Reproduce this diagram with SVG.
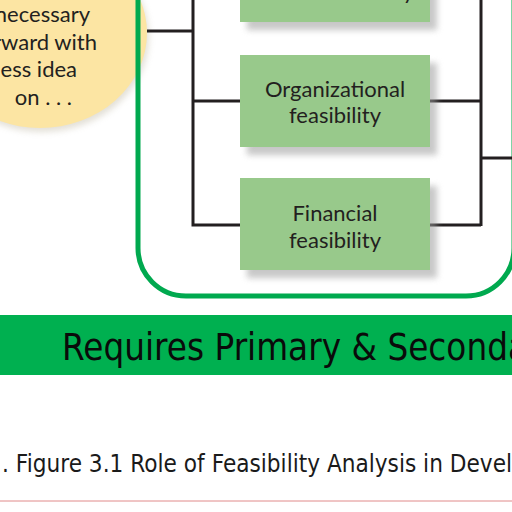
<svg xmlns="http://www.w3.org/2000/svg" width="512" height="512" viewBox="0 0 512 512">
<style>
.box{fill:#98c98b;}
.shadow{fill:#9a9a9a;opacity:0.55;}
.lbl{font-family:Lato,"Open Sans","DejaVu Sans",sans-serif;font-size:22px;fill:#231f20;text-anchor:middle;}
.bub{font-family:Lato,"Open Sans","DejaVu Sans",sans-serif;font-size:22px;fill:#231f20;text-anchor:end;}
.wire{fill:none;stroke:#231f20;stroke-width:3;}
</style>
<defs>
<filter id="blur" x="-20%" y="-20%" width="140%" height="140%"><feGaussianBlur stdDeviation="3"/></filter>
</defs>
<rect x="0" y="0" width="512" height="512" fill="#ffffff"/>

<g id="bubble">
<ellipse cx="42" cy="37" rx="107" ry="95" fill="#b0a890" opacity="0.35" filter="url(#blur)"/>
<ellipse cx="40" cy="33" rx="107" ry="95" fill="#fce5a3"/>
<text class="bub" x="90" y="22">necessary</text>
<text class="bub" x="97" y="50">rward with</text>
<text class="bub" x="77" y="77">ess idea</text>
<text class="bub" x="72" y="105">on . . .</text>
</g>

<g id="frame">
<rect x="138" y="-120" width="376" height="416" rx="48" ry="48" fill="none" stroke="#00a94f" stroke-width="5"/>
</g>

<g id="connectors">
<path class="wire" d="M147 31 H193"/>
<path class="wire" d="M193 0 V225 H240"/>
<path class="wire" d="M193 101 H240"/>
<path class="wire" d="M430 101 H481"/>
<path class="wire" d="M430 225 H481"/>
<path class="wire" d="M481 0 V226"/>
<path class="wire" d="M481 158 H512"/>
</g>

<g id="node-market">
<rect class="shadow" x="247" y="-62" width="190" height="92" filter="url(#blur)"/>
<rect class="box" x="240" y="-70" width="190" height="92"/>
<text class="lbl" x="414" y="-1" style="text-anchor:end">feasibility</text>
</g>

<g id="node-organizational">
<rect class="shadow" x="247" y="63" width="190" height="92" filter="url(#blur)"/>
<rect class="box" x="240" y="55" width="190" height="92"/>
<text class="lbl" x="335" y="97">Organizational</text>
<text class="lbl" x="335" y="123">feasibility</text>
</g>

<g id="node-financial">
<rect class="shadow" x="247" y="186" width="190" height="92" filter="url(#blur)"/>
<rect class="box" x="240" y="178" width="190" height="92"/>
<text class="lbl" x="335" y="221">Financial</text>
<text class="lbl" x="335" y="248">feasibility</text>
</g>

<g id="banner">
<rect x="0" y="315" width="512" height="60" fill="#00b050"/>
<text x="62" y="360" font-family="'DejaVu Sans',sans-serif" font-size="37" fill="#0a0a0a" textLength="466" lengthAdjust="spacingAndGlyphs">Requires Primary &amp; Seconda</text>
</g>

<g id="caption">
<text x="2" y="472" font-family="'DejaVu Sans',sans-serif" font-size="24" fill="#1a1a1a" textLength="510" lengthAdjust="spacingAndGlyphs">. Figure 3.1 Role of Feasibility Analysis in Devel</text>
<line x1="0" y1="501" x2="512" y2="501" stroke="#e08a8a" stroke-width="1"/>
</g>
</svg>
